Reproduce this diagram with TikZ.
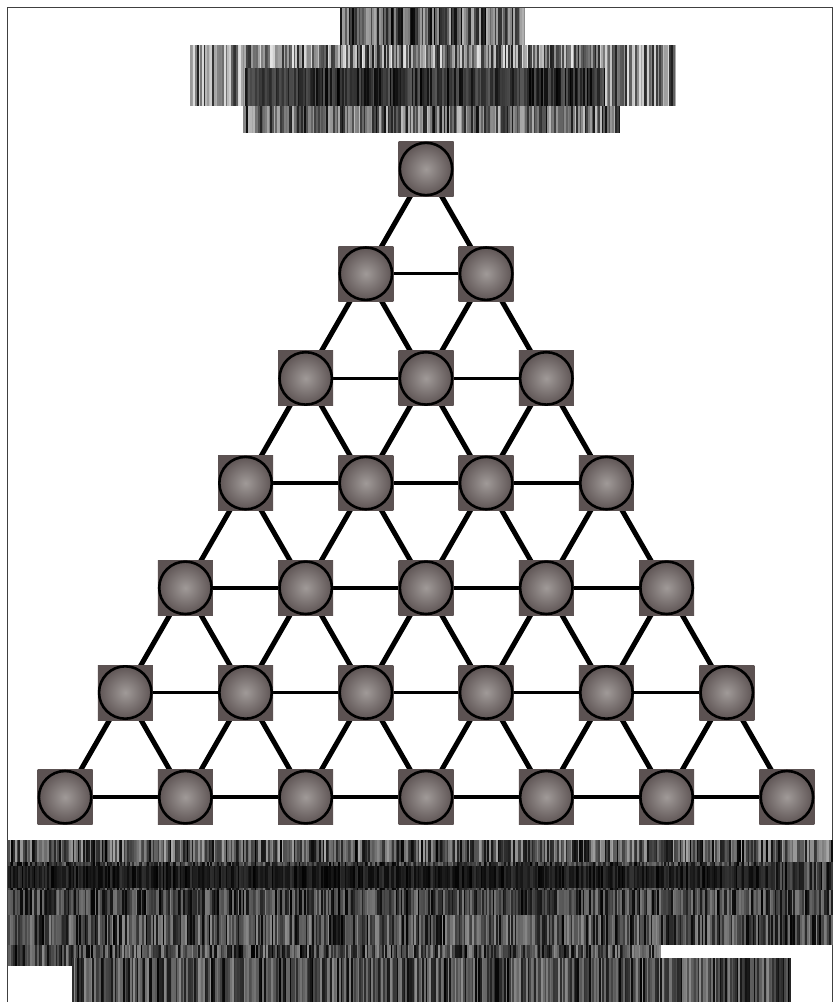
\documentclass[tikz,border=0pt]{standalone}
\usetikzlibrary{backgrounds}
\definecolor{ballin}{RGB}{160,154,152}
\definecolor{ballout}{RGB}{92,82,82}
\newcommand\mybars[6]{%
  \pgfmathtruncatemacro\myN{(#2-#1)/1.7}%
  \foreach \i in {0,...,\myN}{%
    \pgfmathsetmacro\myx{#1+\i*1.7}%
    \pgfmathtruncatemacro\myg{#5+(#6-#5)*rnd}%
    \fill[black!\myg] (\myx,#3) rectangle ({\myx+1.75},#4);
  }%
}
\tikzset{
  ball/.style={rectangle, minimum size=55pt, inner sep=0pt, shading=radial,
    inner color=ballin, outer color=ballout,
    path picture={\draw[line width=2.6pt] (path picture bounding box.center) circle (26.2pt);}},
  diag/.style={line width=5pt},
  horiz/.style={line width=3.5pt},
  frame/.style={line width=1pt, black!75}
}
\begin{document}
\begin{tikzpicture}[x=1pt,y=-1pt]
\useasboundingbox (0,0) rectangle (833,1002);
\draw[frame] (7,1002) -- (7,7) -- (832,7) -- (832,1002);
\pgfmathsetseed{7}
% title (unreadable text rendered as bars)
\mybars{340}{525}{8}{45}{30}{100}
\mybars{190}{675}{45}{106}{10}{90}
\mybars{245}{605}{68}{106}{65}{100}
\mybars{243}{620}{106}{133}{25}{95}
% nodes
\foreach \r in {0,...,6}{
  \foreach \c in {0,...,\r}{
    \node[ball] (n-\r-\c) at ({426+(\c-\r/2)*120.3},{169+\r*104.7}) {};
  }
}
\begin{scope}[on background layer]
\foreach \r in {0,...,5}{
  \foreach \c in {0,...,\r}{
    \pgfmathtruncatemacro\rr{\r+1}
    \pgfmathtruncatemacro\cc{\c+1}
    \draw[diag] (n-\r-\c.center) -- (n-\rr-\c.center);
    \draw[diag] (n-\r-\c.center) -- (n-\rr-\cc.center);
  }
}
\foreach \r in {1,...,6}{
  \pgfmathtruncatemacro\m{\r-1}
  \foreach \c in {0,...,\m}{
    \pgfmathtruncatemacro\cc{\c+1}
    \draw[horiz] (n-\r-\c.center) -- (n-\r-\cc.center);
  }
}
\end{scope}
% bottom caption (unreadable text rendered as bars)
\mybars{8}{832}{840}{862}{35}{100}
\mybars{8}{832}{862}{890}{55}{100}
\mybars{8}{770}{866}{888}{80}{100}
\mybars{8}{832}{890}{915}{50}{100}
\mybars{8}{832}{915}{945}{45}{100}
\mybars{8}{660}{945}{966}{45}{100}
\mybars{72}{790}{958}{1002}{45}{100}
\end{tikzpicture}
\end{document}
